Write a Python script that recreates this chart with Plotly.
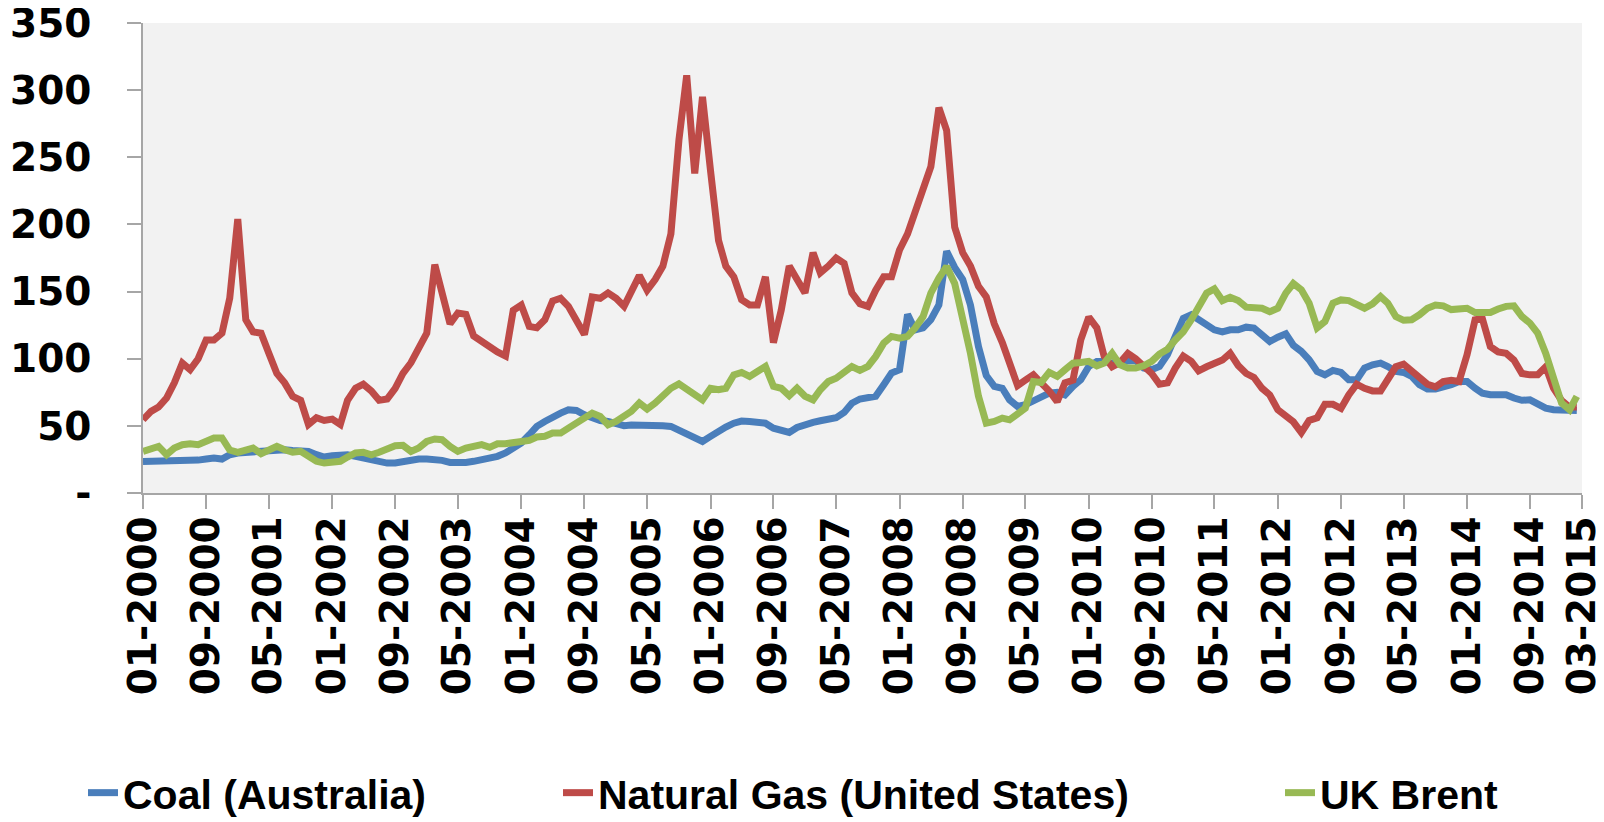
import pandas as pd
import plotly.graph_objects as go

start_month = "2000-01-01"
n_months = 183

coal_australia = [
    23.5, 23.5, 23.5, 23.5, 23.5, 23.5, 24, 24.5,
    25.3, 26, 25.3, 28.5, 29.8, 30.3, 31, 31.7,
    32.2, 32.2, 32.2, 31.7, 31.7, 31, 28.5, 26.8,
    27.8, 28.5, 28.5, 27.3, 26, 24.3, 22.8, 22.3,
    22.3, 23.6, 24.8, 25.3, 25.3, 25.3, 24.3, 22.8,
    22.3, 22.8, 23.6, 24.8, 26, 27.3, 29.8, 33.5,
    37.2, 43.4, 49.6, 53.3, 57, 59.5, 62, 61.5,
    58.3, 55.8, 54, 53.3, 51.6, 50.1, 50.6, 50.8,
    50.8, 50.6, 50.1, 49.6, 46.6, 43.4, 40.2, 38.4,
    42.2, 46.6, 49.1, 52, 53.6, 53.3, 53.3, 52,
    48.3, 46.4, 45.1, 48.8, 51.3, 52.6, 53.8, 55.5,
    56, 60, 66.9, 70, 70.5, 72, 80.6, 89.3,
    91.8, 133, 121.5, 123, 129, 140, 180, 168,
    159, 140, 109, 87.5, 79.4, 78, 69.4, 64.5,
    65.7, 68.2, 72, 74.4, 75, 73, 79.4, 84.3,
    94.2, 98, 98, 96.7, 98, 98, 98.7, 93,
    91.8, 94.2, 103, 116.6, 130, 132.7, 129.5, 125,
    121.5, 120, 121.5, 121.5, 123.5, 122.8, 117, 112.8,
    116, 118.5, 110, 105.4, 99.2, 90.5, 88, 91.3,
    89.8, 84.3, 84.3, 93, 95.5, 96.7, 94.2, 90.5,
    89.8, 86.8, 80.6, 77.4, 77.4, 78.6, 80.6, 83,
    83, 78, 74.4, 73.2, 73.2, 73.2, 70.7, 69,
    69.4, 65.7, 63.2, 62, 62, 61.5, 61.5,
]

natural_gas_us = [
    54.6, 60.8, 64, 70.7, 82, 96.7, 91.8, 100,
    114, 114, 119, 145, 204, 129, 120, 119,
    104, 89, 82, 72, 69, 51, 56, 54,
    55, 51, 69, 78, 81, 76, 69, 70,
    78, 89, 97, 109, 119, 170, 150, 126,
    134, 133, 117, 113, 108, 105, 102, 136,
    140, 124, 123, 129, 143, 145, 139, 129,
    118, 146, 145, 149, 145, 139, 149, 162,
    151, 159, 169, 193, 263, 311, 238, 295,
    240, 188, 169, 161, 144, 140, 140, 161,
    112, 136, 169, 159, 149, 179, 164, 169,
    175, 171, 149, 141, 139, 151, 161, 161,
    181, 193, 208, 226, 243, 287, 270, 198,
    179, 169, 154, 146, 126, 112, 97, 80,
    84, 88, 82, 76, 68, 82, 84, 114,
    131, 123, 102, 94, 97, 104, 100, 95,
    89, 81, 82, 93, 102, 98, 91, 94,
    97, 99, 104, 95, 89, 86, 78, 73,
    62, 57, 53, 45, 54, 56, 66, 66,
    63, 73, 81, 78, 76, 76, 84, 94,
    96, 91, 86, 81, 79, 83, 84, 83,
    103, 129, 130, 109, 105, 104, 99, 89,
    88, 88, 94, 78, 69, 64, 64,
]

uk_brent = [
    31, 33.5, 34.7, 28.5, 33.5, 36, 36.7, 36,
    38.4, 40.9, 41, 32, 30.3, 32.7, 33.5, 29.3,
    32.2, 34.7, 32.2, 30.3, 31, 27.3, 23.6, 22.3,
    22.8, 23.6, 26.8, 29.8, 30.3, 28.5, 30.3, 32.7,
    35.2, 35.5, 31, 33.5, 38.4, 40.2, 39.7, 34.7,
    31, 33.5, 34.7, 36, 34, 36.7, 36.7, 37.2,
    38.4, 39.2, 41.7, 42.2, 44.6, 44.6, 48.3, 52,
    54.5, 59.5, 57, 50.8, 53.3, 57, 60.8, 67,
    62.5, 67, 71.9, 78, 81.3, 77.4, 72.4, 69.4,
    78, 76.9, 78, 88, 89.8, 86.8, 90.5, 94.2,
    79.4, 78, 72.4, 78, 72, 69.4, 76.9, 83,
    85.5, 89.3, 94.2, 91.3, 94.2, 101.7, 111.6, 116.6,
    115.3, 116.6, 122.8, 131.4, 148.8, 160, 168.7, 156,
    131.4, 104, 72, 52, 53.3, 55.8, 54.5, 58.3,
    63.2, 83, 82.3, 89.8, 86.8, 91.8, 96.7, 97.2,
    98, 94.7, 96.7, 104, 95.5, 93, 93, 94.7,
    98, 103.5, 107, 114, 120, 129, 137.6, 148.8,
    152, 143.3, 145.8, 143.3, 138.4, 137.6, 137.6, 135,
    137.6, 148.8, 156, 151.3, 141.4, 123, 127.7, 141.4,
    143.8, 143.3, 140, 137.6, 140.8, 146.3, 141.4, 131.4,
    128.6, 129, 132.7, 137.6, 140, 139.4, 136.6, 137.4,
    137.6, 134.4, 135, 134.4, 137, 139, 139.4, 131.4,
    126.5, 119, 104, 84.3, 67, 62, 72,
]

series_names = ["Coal (Australia)", "Natural Gas (United States)", "UK Brent"]
series_colors = ["#4A7EBB", "#BE4B48", "#98B954"]

x_tick_labels = [
    "01-2000", "09-2000", "05-2001", "01-2002", "09-2002", "05-2003",
    "01-2004", "09-2004", "05-2005", "01-2006", "09-2006", "05-2007",
    "01-2008", "09-2008", "05-2009", "01-2010", "09-2010", "05-2011",
    "01-2012", "09-2012", "05-2013", "01-2014", "09-2014", "03-2015",
]
x_axis_end = "2015-03-21"

y_tick_values = [0, 50, 100, 150, 200, 250, 300, 350]
y_tick_labels = ["-", "50", "100", "150", "200", "250", "300", "350"]

dates = pd.date_range(start_month, periods=n_months, freq="MS")
tick_dates = list(pd.date_range(start_month, periods=len(x_tick_labels) - 1, freq="8MS").strftime("%Y-%m-%d")) + [x_axis_end]

fig = go.Figure()
all_series = [coal_australia, natural_gas_us, uk_brent]
legend_ids = ["legend", "legend2", "legend3"]
for name, vals, color, lg in zip(series_names, all_series, series_colors, legend_ids):
    fig.add_trace(go.Scatter(
        x=dates, y=vals, mode="lines", name=name, legend=lg, showlegend=True,
        line=dict(color=color, width=7),
    ))

axis_gray = "#A6A6A6"
tick_font = dict(family="DejaVu Sans", size=39, color="#000000", weight="bold")
legend_font = dict(family="Liberation Sans", size=41, color="#000000", weight="bold")

# The page body has an 8px default margin, so the figure is drawn 8px in
# from the window's top-left corner; sizes below are in figure pixels.
OFF = 8
W, H = 1604 - OFF, 822 - OFF
L, T = 143 - OFF, 23 - OFF
R = W - (1582 - OFF)
B = H - (493 - OFF)
pw, ph = W - L - R, H - T - B


def leg(px_left, py_mid):
    return dict(orientation="h", xref="paper", yref="paper",
                x=(px_left - OFF - L) / pw, y=(H - B - (py_mid - OFF)) / ph,
                xanchor="left", yanchor="middle", font=legend_font,
                bgcolor="rgba(0,0,0,0)", borderwidth=0, visible=True)


fig.update_layout(
    width=W, height=H,
    showlegend=True,
    margin=dict(l=L, r=R, t=T, b=B, autoexpand=False),
    paper_bgcolor="#FFFFFF",
    plot_bgcolor="#F2F2F2",
    xaxis=dict(
        type="date", range=[start_month, x_axis_end], automargin=False,
        tickmode="array", tickvals=tick_dates, ticktext=x_tick_labels,
        tickangle=-90, tickfont=tick_font, ticklabeloverflow="allow",
        showgrid=False, zeroline=False,
        showline=True, linecolor=axis_gray, linewidth=1.5,
        ticks="outside", ticklen=14, tickcolor=axis_gray, tickwidth=1.5,
        ticklabelstandoff=-8,
    ),
    yaxis=dict(
        range=[0, 350], automargin=False,
        tickmode="array", tickvals=y_tick_values, ticktext=y_tick_labels,
        tickfont=tick_font, ticklabeloverflow="allow",
        showgrid=False, zeroline=False,
        showline=True, linecolor=axis_gray, linewidth=1.5,
        ticks="outside", ticklen=14, tickcolor=axis_gray, tickwidth=1.5,
        ticklabelstandoff=28,
    ),
    legend=leg(83, 793),
    legend2=leg(558, 793),
    legend3=leg(1280, 793),
)

fig.write_html("out.html")
